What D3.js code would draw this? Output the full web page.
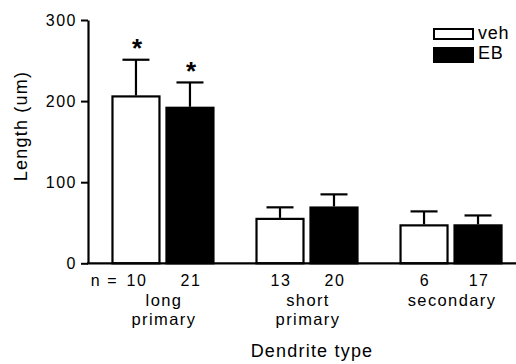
<!DOCTYPE html>
<html lang="en">
<head>
	<meta charset="utf-8">
	<title>Dendrite length</title>
	<script src="https://cdnjs.cloudflare.com/ajax/libs/d3/7.8.5/d3.min.js"></script>
	<style>
	body {
		margin: 0;
		background-color: #fff;
	}
	svg text {
		font-family: "Liberation Sans", Arial, sans-serif;
		fill: #000;
	}
	</style>
</head>
<body>
	<svg id="chart" width="516" height="364"></svg>
	<script>
	// values
	var groups = ['long primary', 'short primary', 'secondary'];
	var series = ['veh', 'EB'];
	var vehMean = [207, 56, 48];
	var vehErr = [44, 13, 16];
	var ebMean = [193, 70, 48];
	var ebErr = [30, 15, 11];
	var vehN = [10, 13, 6];
	var ebN = [21, 20, 17];
	var starred = [true, false, false];
	var yTicks = [0, 100, 200, 300];

	var width = 516, height = 364;
	var svg = d3.select('#chart');

	var y = d3.scaleLinear().domain([0, 300]).range([263.3, 20]);

	var x0 = d3.scaleBand()
		.domain(groups)
		.range([88, 526])
		.paddingInner(0.285)
		.paddingOuter(0.163);

	var x1 = d3.scaleBand()
		.domain(series)
		.range([0, x0.bandwidth()])
		.paddingInner(0.0926);

	var rows = [];
	groups.forEach(function(g, i) {
		rows.push({g: g, s: 'veh', v: vehMean[i], e: vehErr[i], n: vehN[i], star: starred[i]});
		rows.push({g: g, s: 'EB', v: ebMean[i], e: ebErr[i], n: ebN[i], star: starred[i]});
	});

	function cx(d) { return x0(d.g) + x1(d.s) + x1.bandwidth() / 2; }

	// error bars (upper only)
	var err = svg.append('g').attr('stroke', '#000').attr('stroke-width', 2.2);
	err.selectAll('line.stem').data(rows).enter().append('line')
		.attr('x1', cx).attr('x2', cx)
		.attr('y1', function(d) { return y(d.v); })
		.attr('y2', function(d) { return y(d.v + d.e); });
	err.selectAll('line.cap').data(rows).enter().append('line')
		.attr('x1', function(d) { return cx(d) - 13.5; })
		.attr('x2', function(d) { return cx(d) + 13.5; })
		.attr('y1', function(d) { return y(d.v + d.e); })
		.attr('y2', function(d) { return y(d.v + d.e); });

	// bars
	svg.append('g').selectAll('rect').data(rows).enter().append('rect')
		.attr('x', function(d) { return x0(d.g) + x1(d.s) + 1; })
		.attr('y', function(d) { return y(d.v) + 1; })
		.attr('width', x1.bandwidth() - 2)
		.attr('height', function(d) { return y(0) - y(d.v) - 1; })
		.attr('fill', function(d) { return d.s == 'veh' ? '#fff' : '#000'; })
		.attr('stroke', '#000')
		.attr('stroke-width', 2.2);

	// asterisks
	svg.append('g').selectAll('text').data(rows.filter(function(d) { return d.star; }))
		.enter().append('text')
		.attr('x', function(d) { return cx(d) + 1; })
		.attr('y', function(d) { return y(d.v + d.e) - 2.5; })
		.attr('text-anchor', 'middle')
		.style('font-size', '26px')
		.style('font-weight', 'bold')
		.text('*');

	// y axis
	var yAxis = svg.append('g')
		.attr('transform', 'translate(88,0)')
		.call(d3.axisLeft(y).tickValues(yTicks).tickSize(7).tickSizeOuter(0).tickPadding(4));
	yAxis.select('.domain').attr('stroke-width', 2.2);
	yAxis.selectAll('.tick line').attr('stroke-width', 2);
	yAxis.selectAll('.tick text')
		.attr('font-family', null)
		.style('font-size', '16px')
		.style('letter-spacing', '1.5px');

	// x baseline
	svg.append('line')
		.attr('x1', 87).attr('x2', width)
		.attr('y1', y(0)).attr('y2', y(0))
		.attr('stroke', '#000').attr('stroke-width', 2.2);

	// n counts
	svg.append('g').selectAll('text').data(rows).enter().append('text')
		.attr('x', function(d) { return cx(d) + 1; })
		.attr('y', 285.5)
		.attr('text-anchor', 'middle')
		.style('font-size', '16px')
		.style('letter-spacing', '1.5px')
		.text(function(d) { return d.n; });
	svg.append('text')
		.attr('x', cx(rows[0]) - 18)
		.attr('y', 285.5)
		.attr('text-anchor', 'end')
		.style('font-size', '16px')
		.style('letter-spacing', '1.5px')
		.text('n =');

	// category labels, one line per word
	groups.forEach(function(g) {
		g.split(' ').forEach(function(w, k) {
			svg.append('text')
				.attr('x', x0(g) + x0.bandwidth() / 2 + 1)
				.attr('y', 306 + k * 19)
				.attr('text-anchor', 'middle')
				.style('font-size', '16.5px')
				.style('letter-spacing', '1.4px')
				.text(w);
		});
	});

	// axis titles
	svg.append('text')
		.attr('x', 312).attr('y', 357)
		.attr('text-anchor', 'middle')
		.style('font-size', '18px')
		.style('letter-spacing', '1.2px')
		.text('Dendrite type');
	svg.append('text')
		.attr('transform', 'translate(27,126) rotate(-90)')
		.attr('text-anchor', 'middle')
		.style('font-size', '18px')
		.style('letter-spacing', '1.2px')
		.text('Length (um)');

	// legend
	var legend = svg.append('g').selectAll('g').data(series).enter().append('g')
		.attr('transform', function(d, i) { return 'translate(434,' + (i == 0 ? 29 : 48) + ')'; });
	legend.append('rect')
		.attr('width', 39)
		.attr('height', function(d, i) { return i == 0 ? 10 : 14; })
		.attr('fill', function(d) { return d == 'veh' ? '#fff' : '#000'; })
		.attr('stroke', '#000')
		.attr('stroke-width', 2);
	legend.append('text')
		.attr('x', 44)
		.attr('y', function(d, i) { return i == 0 ? 9.5 : 11; })
		.style('font-size', '18px')
		.style('letter-spacing', '0.8px')
		.text(function(d) { return d; });
	</script>
</body>
</html>
